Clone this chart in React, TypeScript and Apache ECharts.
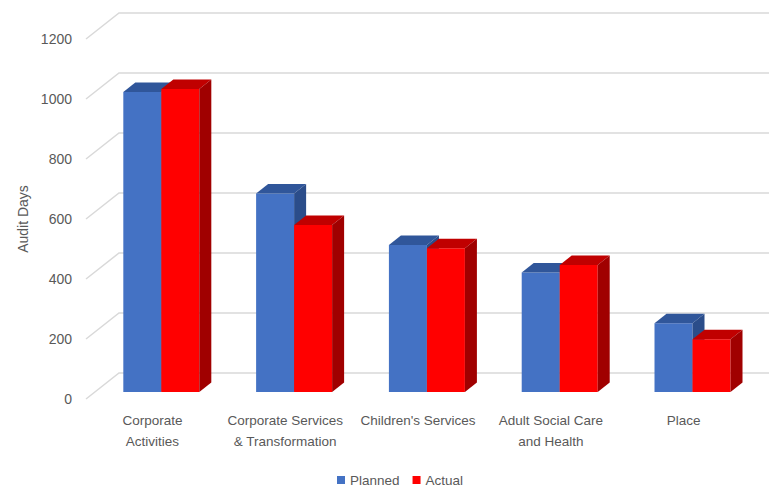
import React, { useEffect, useRef } from "react";
import * as echarts from "echarts";

const categories = [
  "Corporate\nActivities",
  "Corporate Services\n& Transformation",
  "Children's Services",
  "Adult Social Care\nand Health",
  "Place",
];
const planned = [1000, 662, 490, 398, 229];
const actual = [1010, 557, 479, 423, 176];
const yTicks = [0, 200, 400, 600, 800, 1000, 1200];

// oblique projection parameters (pixels)
const WALL_DX = 33;
const WALL_DY = -26;
const BAR_FRONT = 0.27; // bar front face depth fraction
const BAR_DX = 12;
const BAR_DY = -9.5;
const BAR_W = 38;

const BLUE = { front: "#4472C4", top: "#30569A", side: "#2B4D8A" };
const RED = { front: "#FF0000", top: "#C00000", side: "#A00000" };

function barRender(colors: any, which: number) {
  return (params: any, api: any) => {
    const idx = api.value(0);
    const val = api.value(1);
    const base = api.coord([idx, 0]);
    const topP = api.coord([idx, val]);
    const ox = WALL_DX * BAR_FRONT;
    const oy = WALL_DY * BAR_FRONT;
    const cx = base[0] + ox;
    const l = which === 0 ? cx - BAR_W : cx;
    const r = l + BAR_W;
    const b = base[1] + oy;
    const t = topP[1] + oy;
    return {
      type: "group",
      children: [
        {
          type: "rect",
          shape: { x: l, y: t, width: r - l, height: b - t },
          style: { fill: colors.front },
        },
        {
          type: "polygon",
          shape: {
            points: [
              [l, t],
              [l + BAR_DX, t + BAR_DY],
              [r + BAR_DX, t + BAR_DY],
              [r, t],
            ],
          },
          style: { fill: colors.top },
        },
        {
          type: "polygon",
          shape: {
            points: [
              [r, t],
              [r + BAR_DX, t + BAR_DY],
              [r + BAR_DX, b + BAR_DY],
              [r, b],
            ],
          },
          style: { fill: colors.side },
        },
      ],
    };
  };
}

export default function App() {
  const ref = useRef<HTMLDivElement>(null);
  useEffect(() => {
    if (!ref.current) return;
    const chart = echarts.init(ref.current, undefined, { renderer: "svg" });
    const font = "Liberation Sans, Arial, sans-serif";
    chart.setOption({
      animation: false,
      backgroundColor: "#ffffff",
      textStyle: { fontFamily: font },
      grid: { left: 86, top: 39, right: 19, bottom: 90, containLabel: false },
      legend: {
        data: [
          { name: "Planned", itemStyle: { color: BLUE.front } },
          { name: "Actual", itemStyle: { color: RED.front } },
        ],
        left: 332,
        bottom: -3,
        icon: "rect",
        itemWidth: 8,
        itemHeight: 8,
        itemGap: 13,
        textStyle: { color: "#595959", fontSize: 13.5, fontFamily: font },
      },
      xAxis: {
        type: "category",
        data: categories,
        axisLine: { show: false },
        axisTick: { show: false },
        splitLine: { show: false },
        axisLabel: {
          color: "#595959",
          fontSize: 13.5,
          lineHeight: 21,
          margin: 11,
          interval: 0,
          fontFamily: font,
        },
      },
      yAxis: {
        type: "value",
        min: 0,
        max: 1200,
        interval: 200,
        name: "Audit Days",
        nameLocation: "middle",
        nameRotate: 90,
        nameGap: 48,
        nameTextStyle: { color: "#595959", fontSize: 14, fontFamily: font },
        axisLine: { show: false },
        axisTick: { show: false },
        splitLine: { show: false },
        axisLabel: {
          color: "#595959",
          fontSize: 14,
          margin: 14,
          fontFamily: font,
          formatter: (v: number) => String(v),
        },
      },
      series: [
        {
          type: "custom",
          name: "walls",
          silent: true,
          z: 1,
          data: yTicks.map((v) => [0, v]),
          renderItem: (params: any, api: any) => {
            const v = api.value(1);
            const cs = params.coordSys;
            const p = api.coord([0, v]);
            const x0 = cs.x;
            const y = p[1];
            return {
              type: "polyline",
              shape: {
                points: [
                  [x0, y],
                  [x0 + WALL_DX, y + WALL_DY],
                  [x0 + WALL_DX + cs.width, y + WALL_DY],
                ],
              },
              style: { stroke: "#D9D9D9", lineWidth: 1.5, fill: "none" },
            };
          },
        },
        {
          type: "custom",
          name: "Planned",
          z: 2,
          itemStyle: { color: BLUE.front },
          data: planned.map((v, i) => [i, v]),
          renderItem: barRender(BLUE, 0),
        },
        {
          type: "custom",
          name: "Actual",
          z: 3,
          itemStyle: { color: RED.front },
          data: actual.map((v, i) => [i, v]),
          renderItem: barRender(RED, 1),
        },
      ],
    });
    return () => chart.dispose();
  }, []);
  return (
    <div
      ref={ref}
      style={{ position: "fixed", left: 0, top: 0, width: 769, height: 489 }}
    />
  );
}
